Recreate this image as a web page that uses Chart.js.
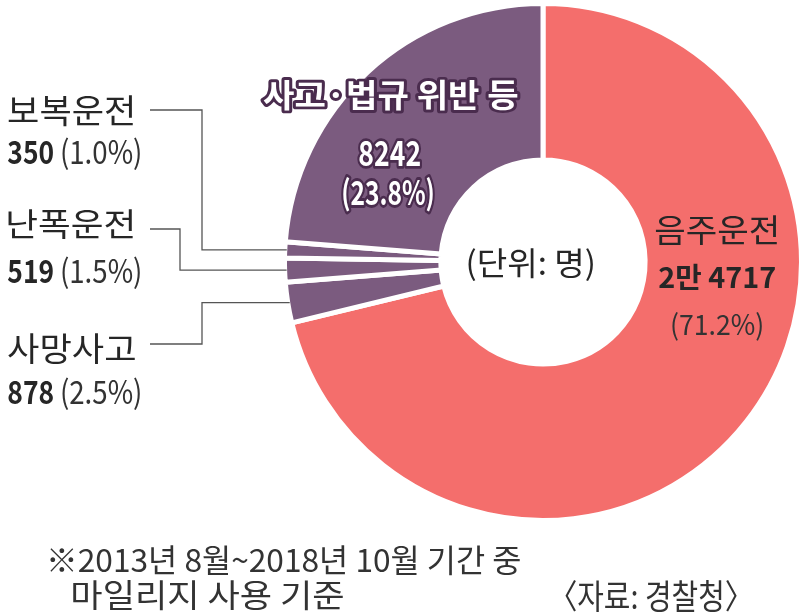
<!DOCTYPE html>
<html>
<head>
<meta charset="utf-8">
<script src="https://cdn.jsdelivr.net/npm/chart.js@4"></script>
<style>
html,body{margin:0;padding:0;background:#fff;overflow:hidden;width:800px;height:615px;}
canvas{display:block;}
</style>
</head>
<body>
<canvas id="c" width="820" height="615"></canvas>
<script>
// ---- data ----
const categories = ['음주운전', '사망사고', '난폭운전', '보복운전', '사고·법규 위반 등'];
const values = [24717, 878, 519, 350, 8242];
const valueLabels = ['2만 4717', '878', '519', '350', '8242'];
const percentLabels = ['(71.2%)', '(2.5%)', '(1.5%)', '(1.0%)', '(23.8%)'];
const unitLabel = '(단위: 명)';
const footnoteLines = ['※2013년 8월~2018년 10월 기간 중', '마일리지 사용 기준'];
const sourceLabel = '〈자료: 경찰청〉';

const RED = '#F46E6C';
const PURPLE = '#7B5B7F';
const sliceColors = [RED, PURPLE, PURPLE, PURPLE, PURPLE];
const KFONT = '"Noto Sans CJK KR", "Noto Sans", sans-serif';

// draw text so that its ink fits the box [x0, y0, x1, y1]
function drawBox(ctx, s, box, o) {
  ctx.save();
  ctx.font = (o.weight || 'normal') + ' 40px ' + KFONT;
  ctx.textBaseline = 'alphabetic';
  ctx.textAlign = 'left';
  const m = ctx.measureText(s);
  const L = m.actualBoundingBoxLeft, R = m.actualBoundingBoxRight;
  const A = m.actualBoundingBoxAscent, D = m.actualBoundingBoxDescent;
  const sx = (box[2] - box[0]) / (L + R);
  const sy = (box[3] - box[1]) / (A + D);
  ctx.translate(box[0], box[1]);
  ctx.scale(sx, sy);
  if (o.stroke) {
    ctx.lineJoin = 'round';
    ctx.lineWidth = (o.strokeWidth || 4) / ((sx + sy) / 2);
    ctx.strokeStyle = o.stroke;
    ctx.strokeText(s, L, A);
  }
  ctx.fillStyle = o.color || '#222';
  ctx.fillText(s, L, A);
  ctx.restore();
}

const labelPlugin = {
  id: 'labels',
  afterDraw(chart) {
    const ctx = chart.ctx;
    const arcs = chart.getDatasetMeta(0).data;
    const dark = '#262626';
    const grey = '#333';

    // left-side small slices: index 3 (보복), 2 (난폭), 1 (사망)
    const side = [
      {i: 3, lineY: 110, elbowX: 202, name: [8, 95, 133, 126], val: [8, 140, 53, 165], pct: [62, 137, 140, 170]},
      {i: 2, lineY: 229, elbowX: 180, name: [8, 209, 133, 239], val: [8, 259, 53, 284], pct: [62, 256, 140, 289]},
      {i: 1, lineY: 344, elbowX: 202, name: [8, 333, 135, 364], val: [8, 380, 53, 405], pct: [62, 377, 140, 410]}
    ];
    side.forEach(s => {
      const a = arcs[s.i];
      const mid = (a.startAngle + a.endAngle) / 2;
      const px = a.x + a.outerRadius * Math.cos(mid);
      const py = a.y + a.outerRadius * Math.sin(mid);
      ctx.save();
      ctx.strokeStyle = '#555';
      ctx.lineWidth = 1.3;
      ctx.beginPath();
      ctx.moveTo(150, s.lineY);
      ctx.lineTo(s.elbowX, s.lineY);
      ctx.lineTo(s.elbowX, py);
      ctx.lineTo(px + 2, py);
      ctx.stroke();
      ctx.restore();
      drawBox(ctx, categories[s.i], s.name, {color: dark});
      drawBox(ctx, valueLabels[s.i], s.val, {weight: 'bold', color: dark});
      drawBox(ctx, percentLabels[s.i], s.pct, {color: grey});
    });

    // 음주운전 (right, inside red)
    drawBox(ctx, categories[0], [655, 215, 777, 245], {color: dark});
    drawBox(ctx, valueLabels[0], [659, 264, 775, 291], {weight: 'bold', color: dark});
    drawBox(ctx, percentLabels[0], [672, 312, 762, 341], {color: grey});

    // 사고·법규 위반 등 (top, inside purple)
    drawBox(ctx, categories[4], [263, 80, 518, 111], {weight: 'bold', color: '#fff', stroke: '#4A2C4E', strokeWidth: 6});
    drawBox(ctx, valueLabels[4], [359, 140, 420, 167], {weight: 'bold', color: '#fff', stroke: '#4A2C4E', strokeWidth: 5});
    drawBox(ctx, percentLabels[4], [343, 177, 433, 212], {weight: 'bold', color: '#fff', stroke: '#4A2C4E', strokeWidth: 5});

    // center unit
    drawBox(ctx, unitLabel, [468, 247, 593, 281], {color: dark});

    // footnotes
    drawBox(ctx, footnoteLines[0], [50, 545, 520, 575], {color: grey});
    drawBox(ctx, footnoteLines[1], [73, 580, 343, 610], {color: grey});
    drawBox(ctx, sourceLabel, [565, 580, 737, 612], {color: grey});
  }
};

new Chart(document.getElementById('c'), {
  type: 'doughnut',
  data: {
    labels: categories,
    datasets: [{
      data: values,
      backgroundColor: sliceColors,
      borderColor: '#ffffff',
      borderWidth: 5,
      hoverOffset: 0
    }]
  },
  options: {
    responsive: false,
    animation: false,
    devicePixelRatio: 1,
    cutout: '39.5%',
    rotation: 0,
    layout: {padding: {left: 282, right: 16, top: 1, bottom: 92}},
    plugins: {legend: {display: false}, tooltip: {enabled: false}}
  },
  plugins: [labelPlugin]
});
</script>
</body>
</html>
